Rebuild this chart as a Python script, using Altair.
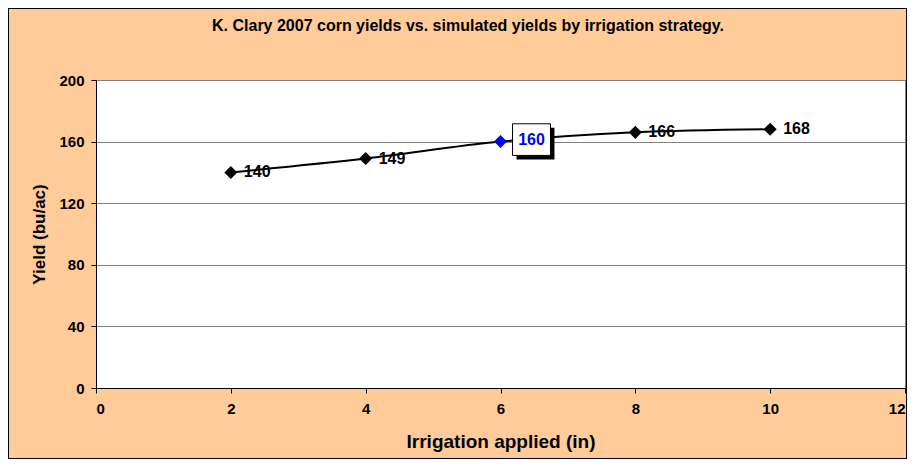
import altair as alt
import pandas as pd

irrigation = [2, 4, 6, 8, 10]
yields = [140, 149, 160, 166, 168]
labels = ["140", "149", "160", "166", "168"]
highlight = [False, False, True, False, False]
title_text = ["K. Clary 2007 corn yields vs. simulated yields by irrigation strategy."]

df = pd.DataFrame({"x": irrigation, "y": yields, "label": labels, "hl": highlight})
tdf = pd.DataFrame({"t": title_text})

W, H = 809, 308
FONT = "Liberation Sans"

xs = alt.Scale(domain=[0, 12], nice=False)
ys = alt.Scale(domain=[0, 200], nice=False)

x_enc = alt.X("x:Q", scale=xs, axis=alt.Axis(
    values=[0, 2, 4, 6, 8, 10, 12], format="d", grid=False, title="Irrigation applied (in)",
    domainColor="black", tickColor="black", tickSize=5, labelPadding=8,
    labelFont=FONT, labelFontSize=15, labelFontWeight="bold", labelColor="black",
    titleFont=FONT, titleFontSize=19, titleFontWeight="bold", titleColor="black",
    titleY=59, titleBaseline="alphabetic"))
y_enc = alt.Y("y:Q", scale=ys, axis=alt.Axis(
    values=[0, 40, 80, 120, 160, 200], format="d", grid=True, gridColor="#808080",
    title="Yield (bu/ac)",
    domainColor="black", tickColor="black", tickSize=5, labelPadding=7,
    labelFont=FONT, labelFontSize=15, labelFontWeight="bold", labelColor="black",
    titleFont=FONT, titleFontSize=17, titleFontWeight="bold", titleColor="black",
    titleX=-57, titleY=H / 2, titleAngle=-90, titleBaseline="middle", titleAlign="center"))

base = alt.Chart(df)

line = base.mark_line(color="black", strokeWidth=2, interpolate="monotone").encode(x=x_enc, y=y_enc)

points = base.transform_filter("!datum.hl").mark_point(
    shape="diamond", filled=True, color="black", size=170, opacity=1).encode(x="x:Q", y="y:Q")
blue_pt = base.transform_filter("datum.hl").mark_point(
    shape="diamond", filled=True, color="#0000FF", size=170, opacity=1).encode(x="x:Q", y="y:Q")

lbls = base.transform_filter("!datum.hl").mark_text(
    align="left", baseline="middle", dx=13, font=FONT, fontSize=16, fontWeight="bold",
    color="black").encode(x="x:Q", y="y:Q", text="label:N")

rect_shape = "M-1.2,-1L1.2,-1L1.2,1L-1.2,1Z"
shadow = base.transform_filter("datum.hl").mark_point(
    shape=rect_shape, filled=True, color="black", size=1000, opacity=1,
    xOffset=35, yOffset=2).encode(x="x:Q", y="y:Q")
box = base.transform_filter("datum.hl").mark_point(
    shape=rect_shape, filled=True, fill="white", stroke="black", strokeWidth=1,
    size=1000, opacity=1, xOffset=31, yOffset=-2).encode(x="x:Q", y="y:Q")
blue_lbl = base.transform_filter("datum.hl").mark_text(
    align="center", baseline="middle", dx=31, dy=-2, font=FONT, fontSize=16,
    fontWeight="bold", color="#0000FF").encode(x="x:Q", y="y:Q", text="label:N")

border = alt.Chart(df).mark_rect(filled=False, stroke="black", strokeWidth=1).encode(
    x=alt.value(-87.5), x2=alt.value(W + 1.5), y=alt.value(-71.5), y2=alt.value(H + 70.5))

title = alt.Chart(tdf).mark_text(
    align="center", baseline="alphabetic", font=FONT, fontSize=16, fontWeight="bold",
    color="black").encode(x=alt.value(372), y=alt.value(-49), text="t:N")

chart = alt.layer(border, line, points, blue_pt, lbls, shadow, box, blue_lbl, title).properties(
    width=W, height=H,
    background="#FFCC99",
    autosize=alt.AutoSizeParams(type="none"),
    padding={"left": 88, "top": 72, "right": 2, "bottom": 71},
).configure_view(stroke="#808080", fill="white", strokeWidth=1)

chart.save("out.html", embed_options={"renderer": "svg", "actions": False})
